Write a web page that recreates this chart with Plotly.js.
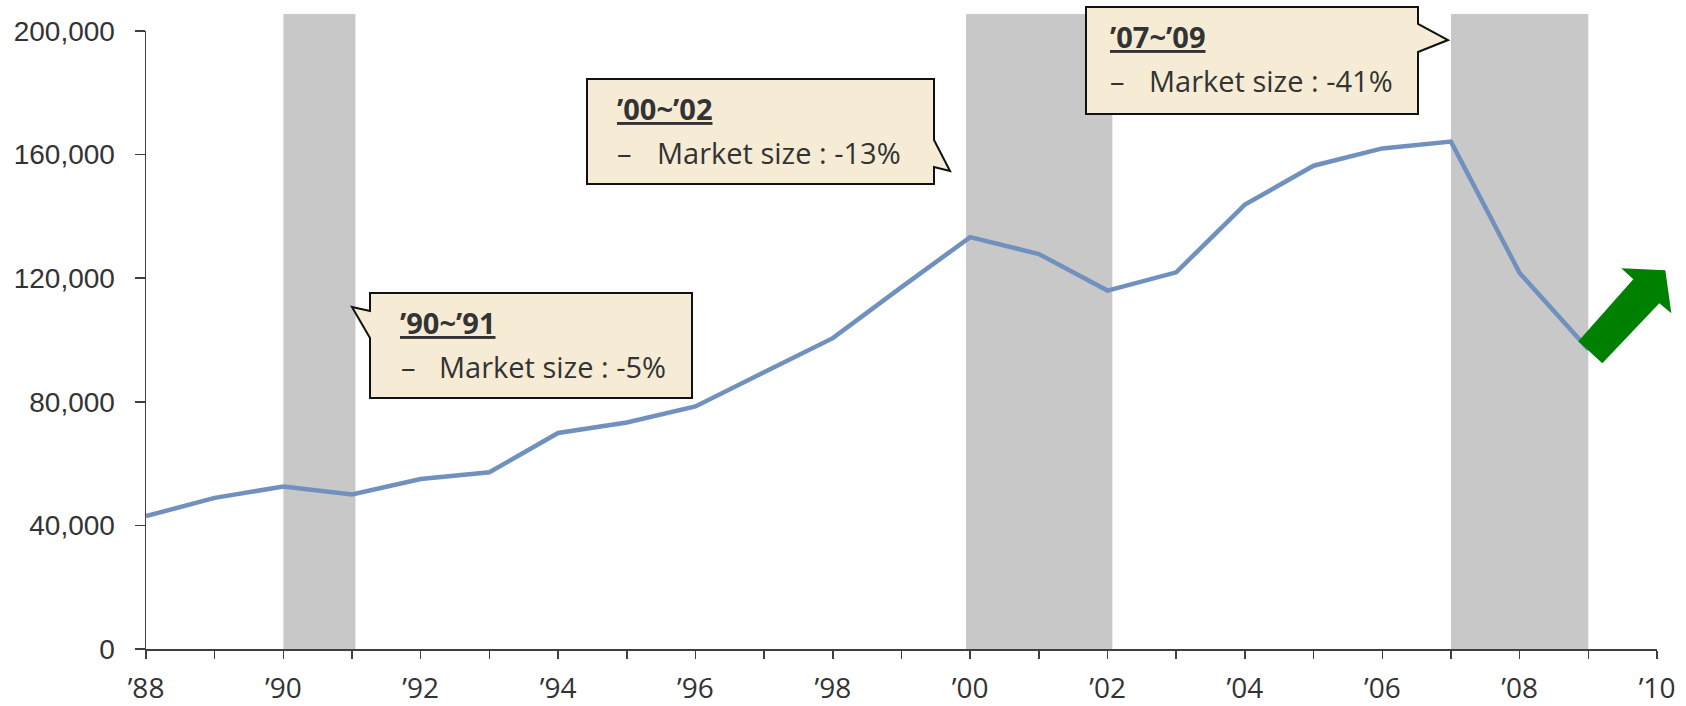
<!DOCTYPE html>
<html>
<head>
<meta charset="utf-8">
<script src="https://cdn.plot.ly/plotly-3.0.1.min.js"></script>
<style>
  html, body { margin: 0; padding: 0; background: #ffffff; }
  #chart { width: 1686px; height: 706px; }
</style>
</head>
<body>
<div id="chart"></div>
<script>
// ---- Data ----
const years = [1988, 1989, 1990, 1991, 1992, 1993, 1994, 1995, 1996, 1997, 1998,
               1999, 2000, 2001, 2002, 2003, 2004, 2005, 2006, 2007, 2008, 2009];
const marketSize = [43000, 48900, 52600, 50000, 55000, 57200, 69900, 73300, 78500, 89500, 100600,
                    117100, 133300, 127800, 116000, 121900, 143800, 156400, 162000, 164200, 121700, 97000];

const tickYears = [1988, 1989, 1990, 1991, 1992, 1993, 1994, 1995, 1996, 1997, 1998,
                   1999, 2000, 2001, 2002, 2003, 2004, 2005, 2006, 2007, 2008, 2009, 2010];
const tickLabels = ['’88', '', '’90', '', '’92', '', '’94', '', '’96', '', '’98',
                    '', '’00', '', '’02', '', '’04', '', '’06', '', '’08', '', '’10'];
const yTickValues = [0, 40000, 80000, 120000, 160000, 200000];

// Downturn periods (first and last year) and their shaded spans
const downturnStart = [1990, 2000, 2007];
const downturnEnd = [1991, 2002, 2009];
const downturnLabels = ['’90~’91', '’00~’02', '’07~’09'];
const bandStart = [1990, 1999.94, 2007];
const bandEnd = [1991.05, 2002.07, 2009];

// ---- Axes and page geometry ----
const xRange = [1988, 2010];
const yRange = [0, 200000];
const W = 1686, H = 706;
const M = { l: 146, r: 29, t: 31, b: 57 };
const plotW = W - M.l - M.r;
const plotH = H - M.t - M.b;
const px = X => (X - M.l) / plotW;          // page pixel -> paper x
const py = Y => (H - M.b - Y) / plotH;      // page pixel -> paper y
const dataToPaperX = v => (v - xRange[0]) / (xRange[1] - xRange[0]);
const dataToPaperY = v => (v - yRange[0]) / (yRange[1] - yRange[0]);

const textColor = '#333333';
const axisColor = '#3f3f3f';
const calloutFont = '"Open Sans", Lato, sans-serif';
const calloutSize = 29;

// Callout boxes (page pixels): box edges, tail side/attachment, tip, text columns
const callouts = [
  { l: 370, t: 293, r: 692, b: 398, side: 'left',  a1: 311, a2: 338, tip: [352, 307], hx: 398, dx: 399, mx: 437 },
  { l: 587, t: 79,  r: 934, b: 184, side: 'right', a1: 140, a2: 167, tip: [950, 171], hx: 615, dx: 615, mx: 655 },
  { l: 1086, t: 7,  r: 1418, b: 114, side: 'right', a1: 24, a2: 52,  tip: [1448, 40], hx: 1108, dx: 1108, mx: 1147 }
];

function calloutPath(c) {
  const P = (x, y) => px(x).toFixed(5) + ',' + py(y).toFixed(5);
  let pts;
  if (c.side === 'right') {
    pts = [P(c.l, c.t), P(c.r, c.t), P(c.r, c.a1), P(c.tip[0], c.tip[1]),
           P(c.r, c.a2), P(c.r, c.b), P(c.l, c.b)];
  } else {
    pts = [P(c.l, c.t), P(c.r, c.t), P(c.r, c.b), P(c.l, c.b),
           P(c.l, c.a2), P(c.tip[0], c.tip[1]), P(c.l, c.a1)];
  }
  return 'M' + pts.join(' L') + ' Z';
}

const shapes = [];
const annotations = [];

// Shaded downturn spans
bandStart.forEach((s, i) => {
  shapes.push({
    type: 'rect', xref: 'x', yref: 'paper',
    x0: s, x1: bandEnd[i], y0: 0, y1: py(14),
    fillcolor: '#c8c8c8', line: { width: 0 }, layer: 'below'
  });
});

// Callouts with heading and change in market size over the period
callouts.forEach((c, i) => {
  shapes.push({
    type: 'path', xref: 'paper', yref: 'paper',
    path: calloutPath(c),
    fillcolor: '#f6ecd6', line: { color: '#111111', width: 2 }, layer: 'above'
  });
  const v0 = marketSize[years.indexOf(downturnStart[i])];
  const v1 = marketSize[years.indexOf(downturnEnd[i])];
  const pct = Math.round((v1 / v0 - 1) * 100);
  const mid = base => py(base - 0.39 * calloutSize);
  annotations.push({
    xref: 'paper', yref: 'paper', x: px(c.hx), y: mid(c.t + 41),
    xanchor: 'left', yanchor: 'middle', showarrow: false,
    text: downturnLabels[i],
    font: { family: calloutFont, size: calloutSize, color: textColor, weight: 700, lineposition: 'under' }
  });
  annotations.push({
    xref: 'paper', yref: 'paper', x: px(c.dx), y: mid(c.t + 85),
    xanchor: 'left', yanchor: 'middle', showarrow: false,
    text: '\u2013',
    font: { family: calloutFont, size: calloutSize, color: textColor }
  });
  annotations.push({
    xref: 'paper', yref: 'paper', x: px(c.mx), y: mid(c.t + 85),
    xanchor: 'left', yanchor: 'middle', showarrow: false,
    text: 'Market size : ' + pct + '%',
    font: { family: calloutFont, size: calloutSize, color: textColor }
  });
});

// Upturn arrow anchored at the last data point (offsets in pixels, y up)
const arrowPts = [[-10, 8], [14, -14], [71, 46], [83, 36], [77, 79], [33, 81], [45, 70]];
shapes.push({
  type: 'path', xref: 'paper', yref: 'paper',
  xsizemode: 'pixel', ysizemode: 'pixel',
  xanchor: dataToPaperX(years[years.length - 1]),
  yanchor: dataToPaperY(marketSize[marketSize.length - 1]),
  path: 'M' + arrowPts.map(p => p[0] + ',' + p[1]).join(' L') + ' Z',
  fillcolor: '#008000', line: { width: 0 }, layer: 'above'
});

const trace = {
  type: 'scatter', mode: 'lines',
  x: years, y: marketSize,
  line: { color: '#7090be', width: 4.5 },
  hoverinfo: 'skip'
};

const layout = {
  width: W, height: H,
  margin: M,
  paper_bgcolor: '#ffffff', plot_bgcolor: '#ffffff',
  showlegend: false,
  xaxis: {
    range: xRange,
    tickmode: 'array', tickvals: tickYears, ticktext: tickLabels,
    ticks: 'outside', ticklen: 8, tickwidth: 1.5, tickcolor: axisColor,
    showline: true, linecolor: axisColor, linewidth: 1.5,
    showgrid: false, zeroline: false,
    tickfont: { family: calloutFont, size: 28, color: textColor },
    ticklabelstandoff: 6
  },
  yaxis: {
    range: yRange,
    tickmode: 'array', tickvals: yTickValues,
    tickformat: ',d',
    ticks: 'outside', ticklen: 10, tickwidth: 1.5, tickcolor: axisColor,
    showline: true, linecolor: axisColor, linewidth: 1.5,
    showgrid: false, zeroline: false,
    tickfont: { family: '"Liberation Sans", Arial, sans-serif', size: 28, color: textColor },
    ticklabelstandoff: 14
  },
  shapes: shapes,
  annotations: annotations
};

Plotly.newPlot('chart', [trace], layout, { staticPlot: true, displayModeBar: false });
</script>
</body>
</html>
